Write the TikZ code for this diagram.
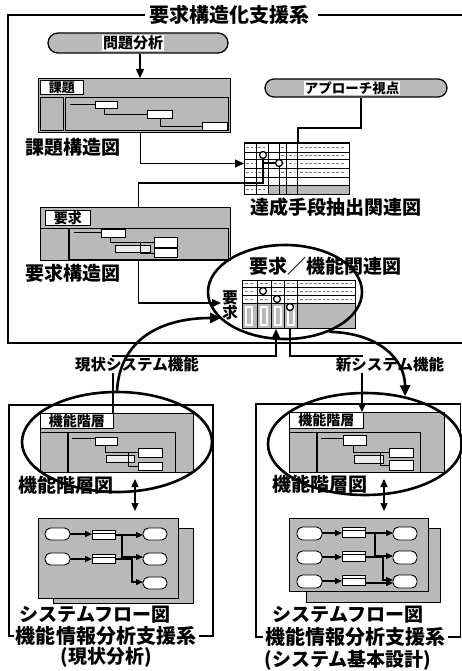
\documentclass[tikz,border=0pt]{standalone}
\usepackage{fontspec}
\setmainfont{Noto Sans CJK JP}
\usetikzlibrary{arrows.meta,shapes.geometric,calc}
\begin{document}
\begin{tikzpicture}[x=1pt,y=-1pt,
  tex/.style={fill=gray!55},
  bx/.style={draw, line width=1.3pt, fill=gray!55, inner sep=0pt, anchor=north west},
  wb/.style={draw, fill=white, line width=0.9pt},
  thin/.style={line width=0.8pt},
  big/.style={font=\bfseries\fontsize{19}{19}\selectfont, inner sep=0pt},
  ttl/.style={font=\bfseries\fontsize{20}{20}\selectfont, inner sep=0pt},
  sub/.style={font=\bfseries\fontsize{19}{19}\selectfont, inner sep=0pt},
  mid/.style={font=\bfseries\fontsize{15.5}{16}\selectfont, inner sep=1pt},
  sml/.style={font=\bfseries\fontsize{13}{13}\selectfont, inner sep=0pt},
  conn/.style={line width=1.3pt},
  frm/.style={line width=1.3pt},
  tip/.style={-{Triangle[length=9pt,width=8pt]}},
  bigc/.style={line width=2.6pt, -{Triangle[length=11pt,width=10pt]}},
  ell/.style={ellipse, draw, line width=2.6pt, inner sep=0pt},
  scrib/.style={gray, line width=1pt, dash pattern=on 3pt off 1.5pt},
  stad/.style={draw, fill=white, line width=0.9pt, rounded corners=5.5pt}
]
\useasboundingbox (0,0) rectangle (462,671);

% ===== top frame =====
\node[ttl] (t1) at (229,15) {要求構造化支援系};
\draw[frm] ([xshift=-4pt]t1.west) -- (8,15) -- (8,343) -- (462,343);
\draw[frm] ([xshift=9pt]t1.east) -- (462,15);

% ===== 問題分析 =====
\node[draw, line width=1.3pt, fill=gray!55, rounded corners=10pt, minimum width=180, minimum height=20, inner sep=0pt] (mondai) at (138,43) {};
\node[mid, fill=white, font=\bfseries\fontsize{15}{15}\selectfont] (mondaiT) at (133,43) {問題分析};

% ===== 課題 box =====
\node[bx, minimum width=192, minimum height=54] (kadai) at (38,78) {};
\node[wb, sml, minimum width=43, minimum height=14, anchor=north west] (kadaiL) at (40,80) {課題};
\draw[thin] (40,97) rectangle (63,130);
\draw[thin] (65,97) rectangle (228,130);
\draw[thin] (70,104) -- (95,104);
\draw[wb] (95,101) rectangle (117,108);
\draw[thin] (104,108) -- (104,114) -- (147,114);
\draw[wb] (147,110) rectangle (172,118);
\draw[thin] (160,118) -- (160,126) -- (202,126);
\draw[wb] (202,122) rectangle (227,130);
\draw[conn, tip] (mondai.south -| 140,0) -- (kadai.north -| 140,0);
\node[big] (kadaiLab) at (73,147) {課題構造図};

% ===== アプローチ視点 =====
\node[draw, line width=1.3pt, fill=gray!55, rounded corners=9pt, minimum width=182, minimum height=18, inner sep=0pt] (appr) at (356,88) {};
\node[fill=white, font=\bfseries\fontsize{13.5}{13.5}\selectfont, inner sep=1pt] (apprT) at (352,88) {アプローチ視点};

% ===== 達成手段抽出関連図 table =====
\node[draw, fill=white, line width=1pt, minimum width=105, minimum height=51, inner sep=0pt, anchor=north west] (tbl1) at (244,143) {};
\fill[tex] (268,185) rectangle (349,194);
\foreach \x in {256,268,279,286,297} \draw[thin] (\x,143) -- (\x,194);
\foreach \y in {152,159,168,177,185} \draw[thin] (244,\y) -- (349,\y);
\draw[line width=1pt] (244,143) rectangle (349,194);
\foreach \y in {147.5,155.5,163.5,172.5} \draw[scrib] (300,\y) -- (345,\y);
\foreach \y in {147.5,163.5,172.5,189.5} \draw[scrib] (246,\y) -- (253,\y);
\foreach \y in {147.5,172.5,189.5} \draw[scrib] (258,\y) -- (265,\y);
\foreach \y in {147.5,155.5,163.5,172.5} \draw[scrib] (281,\y) -- (284,\y);
\foreach \y in {155.5,163.5,172.5} \draw[scrib] (289,\y) -- (295,\y);
\node[circle, draw, line width=1.3pt, fill=white, minimum size=7pt, inner sep=0pt] (c1) at (263,155) {};
\node[circle, draw, line width=1.3pt, fill=white, minimum size=7pt, inner sep=0pt] (c2) at (279,163) {};
\coordinate (j1) at (263,183);
\coordinate (j2) at (263,163);
\draw[conn] (j2) -- (c2.west);
\node[big] (tassei) at (336,207) {達成手段抽出関連図};
\coordinate (k1) at (298,128);
\draw[conn] ([xshift=5pt]appr.south) |- (k1) -- (k1 |- tbl1.north);
\draw[conn, tip] ([xshift=6pt]kadai.south) |- ([yshift=5.5pt]tbl1.west);

% ===== 要求 box =====
\node[bx, minimum width=190, minimum height=53] (yokyu) at (40,207) {};
\node[wb, sml, font=\bfseries\fontsize{14}{14}\selectfont, minimum width=45, minimum height=15, anchor=north west] (yokyuL) at (45,210) {要求};
\draw[thin] (40,228) rectangle (68,260);
\draw[thin] (69,228) rectangle (228,259);
\draw[thin] (74,232) -- (101,232);
\draw[wb] (101,229) rectangle (125,237);
\draw[thin] (110,237) -- (110,242) -- (154,242);
\draw[fill=gray!15, draw=black, line width=0.6pt] (115,245) rectangle (150,252);
\draw[thin] (140,242) -- (140,253) -- (154,253);
\draw[wb] (154,237) rectangle (177,247);
\draw[wb] (154,248) rectangle (177,257);
\node[big] (yokyuLab) at (73,273) {要求構造図};
\draw[conn] ([xshift=3pt]yokyu.north) |- (j1) -- (c1.south);

% ===== 要求／機能関連図 =====
\node[draw, fill=white, line width=1pt, minimum width=113, minimum height=48, inner sep=0pt, anchor=north west] (tbl2) at (242,280) {};
\fill[tex] (242,303) rectangle (355,328);
\foreach \x in {257,271,284,297} \draw[thin] (\x,280) -- (\x,328);
\foreach \y in {287,295,303} \draw[thin] (242,\y) -- (355,\y);
\foreach \x in {244,259,273,286} {\fill[white] (\x+1,306) rectangle (\x+9,326);}
\foreach \x in {244,259,273,286} {\fill[tex] (\x+3,308) rectangle (\x+7,324);}
\foreach \x in {257,271,284,297} \draw[thin] (\x,303) -- (\x,328);
\draw[line width=1pt] (242,280) rectangle (355,328);
\foreach \y in {283.5,291,299} \draw[scrib] (300,\y) -- (352,\y);
\foreach \y in {283.5,291,299} \draw[scrib] (245,\y) -- (253,\y);
\foreach \y in {283.5,299} \draw[scrib] (260,\y) -- (268,\y);
\foreach \y in {283.5,291} \draw[scrib] (274,\y) -- (281,\y);
\foreach \y in {283.5,291,299} \draw[scrib] (287,\y) -- (294,\y);
\node[circle, draw, line width=1.3pt, fill=white, minimum size=7pt, inner sep=0pt] (c3) at (263,291) {};
\node[circle, draw, line width=1.3pt, fill=white, minimum size=7pt, inner sep=0pt] (c4) at (277,299) {};
\node[circle, draw, line width=1.3pt, fill=white, minimum size=7pt, inner sep=0pt] (c5) at (290,307) {};
\node[ell, minimum width=154, minimum height=94] (e1) at (285,292) {};
\node[big] (kinoLab) at (325,266) {要求／機能関連図};
\node[mid] (yo) at (230,298) {要};
\node[mid] (kyu) at (230,313) {求};
\coordinate (a1) at (221,303);
\coordinate (a2) at (221,318);
\draw[conn, tip] ([xshift=3pt]yokyu.south) |- (a1);

% ===== bottom frames =====
\node[ttl] (t2) at (106,636) {機能情報分析支援系};
\node[sub] (t2b) at (106,657) {(現状分析)};
\draw[frm] ([xshift=-2pt]t2.west) -- (9,636) -- (9,405) -- (213,405) -- (213,636) -- ([xshift=3pt]t2.east);
\node[ttl] (t3) at (355,637) {機能情報分析支援系};
\node[sub] (t3b) at (348,660) {(システム基本設計)};
\draw[frm] ([xshift=-2pt]t3.west) -- (256,637) -- (256,404) -- (460.5,404) -- (460.5,637) -- ([xshift=3pt]t3.east);

% ===== left 機能階層 box =====
\node[bx, minimum width=153, minimum height=59] (kaiL) at (40,413) {};
\node[wb, sml, font=\bfseries\fontsize{14}{14}\selectfont, minimum width=73, minimum height=15, anchor=north west] (kaiLL) at (40,413) {機能階層};
\draw[thin] (40,432) rectangle (67,472);
\draw[thin] (68,432) rectangle (175,472);
\draw[thin] (72,438) -- (95,438);
\draw[wb] (95,437) rectangle (117,445);
\draw[thin] (105,445) -- (105,452) -- (138,452);
\draw[fill=gray!15, draw=black, line width=0.6pt] (106,455) rectangle (134,462);
\draw[thin] (128,452) -- (128,466) -- (138,466);
\draw[wb] (138,448) rectangle (162,457);
\draw[wb] (138,462) rectangle (162,470);

% ===== right 機能階層 box =====
\node[bx, minimum width=155, minimum height=60] (kaiR) at (289,412) {};
\node[wb, sml, font=\bfseries\fontsize{14}{14}\selectfont, minimum width=74, minimum height=16, anchor=north west] (kaiRL) at (289,412) {機能階層};
\draw[thin] (289,432) rectangle (316,472);
\draw[thin] (317,432) rectangle (420,472);
\draw[thin] (321,438) -- (343,438);
\draw[wb] (343,435) rectangle (366,445);
\draw[thin] (353,445) -- (353,452) -- (389,452);
\draw[fill=gray!15, draw=black, line width=0.6pt] (354,455) rectangle (383,463);
\draw[thin] (380,452) -- (380,465) -- (389,465);
\draw[wb] (389,448) rectangle (413,457);
\draw[wb] (389,460) rectangle (413,470);

% ===== ellipses for 機能階層 =====
\node[ell, minimum width=190, minimum height=100] (eL) at (117,442) {};
\node[ell, minimum width=194, minimum height=102] (eR) at (365,444) {};
\node[big] (kaiLLab) at (66,485) {機能階層図};
\node[big] (kaiRLab) at (320,484) {機能階層図};

% ===== connectors between systems =====
\coordinate (p1) at (113,356);
\coordinate (q1) at (276,356);
\coordinate (q2) at (290,356);
\coordinate (p2) at (362,356);
\draw[conn, tip] (kaiL.north -| p1) -- (p1) -- (q1) -- (q1 |- tbl2.south);
\draw[conn, tip] (q2 |- tbl2.south) -- (q2) -- (p2) -- (p2 |- kaiR.north);
\node[mid, fill=white] (lblL) at (137,365) {現状システム機能};
\node[mid, fill=white] (lblR) at (390,365) {新システム機能};
\draw[bigc] (eL.north) .. controls (120,340) and (160,318) .. (a2);
\draw[bigc] (e1.-42) .. controls (380,333) and (405,360) .. (eR.50);

% ===== left system flow =====
\node[bx, minimum width=140, minimum height=75] (flowLb) at (53,528) {};
\node[bx, minimum width=140, minimum height=80] (flowL) at (38,518) {};
\draw[stad] (45,528) rectangle (70,540);
\draw[stad] (45,553) rectangle (70,565);
\draw[wb] (92,530) rectangle (115,539); \draw[thin] (92,533) -- (115,533);
\draw[wb] (92,554) rectangle (115,563); \draw[thin] (92,557) -- (115,557);
\draw[stad] (143,528) rectangle (167,540);
\draw[stad] (143,553) rectangle (167,565);
\draw[stad] (143,577) rectangle (167,589);
\draw[conn, -{Triangle[length=7pt,width=6pt]}] (70,534) -- (92,534);
\draw[conn, -{Triangle[length=7pt,width=6pt]}] (70,559) -- (92,559);
\draw[conn, -{Triangle[length=7pt,width=6pt]}] (115,535) -- (143,535);
\draw[conn, -{Triangle[length=7pt,width=6pt]}] (122,535) -- (122,557) -- (143,557);
\draw[conn, -{Triangle[length=7pt,width=6pt]}] (115,559) -- (132,559) -- (132,582) -- (143,582);
\node[big] (sfL) at (95,615) {システムフロー図};
\coordinate (dl1) at (135,479);
\coordinate (dl2) at (135,511);
\draw[conn, {Triangle[length=8pt,width=7pt]}-{Triangle[length=8pt,width=7pt]}] (dl1) -- (dl2);

% ===== right system flow =====
\node[bx, minimum width=134, minimum height=74] (flowRb) at (306,528) {};
\node[bx, minimum width=139, minimum height=73] (flowR) at (289,518) {};
\draw[stad] (297,527) rectangle (322,540);
\draw[stad] (297,551) rectangle (322,564);
\draw[stad] (297,575) rectangle (322,588);
\draw[wb] (342,527) rectangle (365,537); \draw[thin] (342,530) -- (365,530);
\draw[wb] (342,551) rectangle (365,561); \draw[thin] (342,554) -- (365,554);
\draw[wb] (342,575) rectangle (365,585); \draw[thin] (342,578) -- (365,578);
\draw[stad] (393,527) rectangle (417,540);
\draw[stad] (393,551) rectangle (417,564);
\draw[stad] (393,575) rectangle (417,588);
\draw[conn, -{Triangle[length=7pt,width=6pt]}] (322,533) -- (342,533);
\draw[conn, -{Triangle[length=7pt,width=6pt]}] (322,557) -- (342,557);
\draw[conn, -{Triangle[length=7pt,width=6pt]}] (322,581) -- (342,581);
\draw[conn, -{Triangle[length=7pt,width=6pt]}] (365,533) -- (393,533);
\draw[conn, -{Triangle[length=7pt,width=6pt]}] (375,533) -- (375,556) -- (393,556);
\draw[conn, -{Triangle[length=7pt,width=6pt]}] (365,557) -- (383,557) -- (383,580) -- (393,580);
\draw[conn, -{Triangle[length=7pt,width=6pt]}] (365,583) -- (393,583);
\node[big] (sfR) at (348,615) {システムフロー図};
\coordinate (dr1) at (384,479);
\coordinate (dr2) at (384,511);
\draw[conn, {Triangle[length=8pt,width=7pt]}-{Triangle[length=8pt,width=7pt]}] (dr1) -- (dr2);
\end{tikzpicture}
\end{document}
